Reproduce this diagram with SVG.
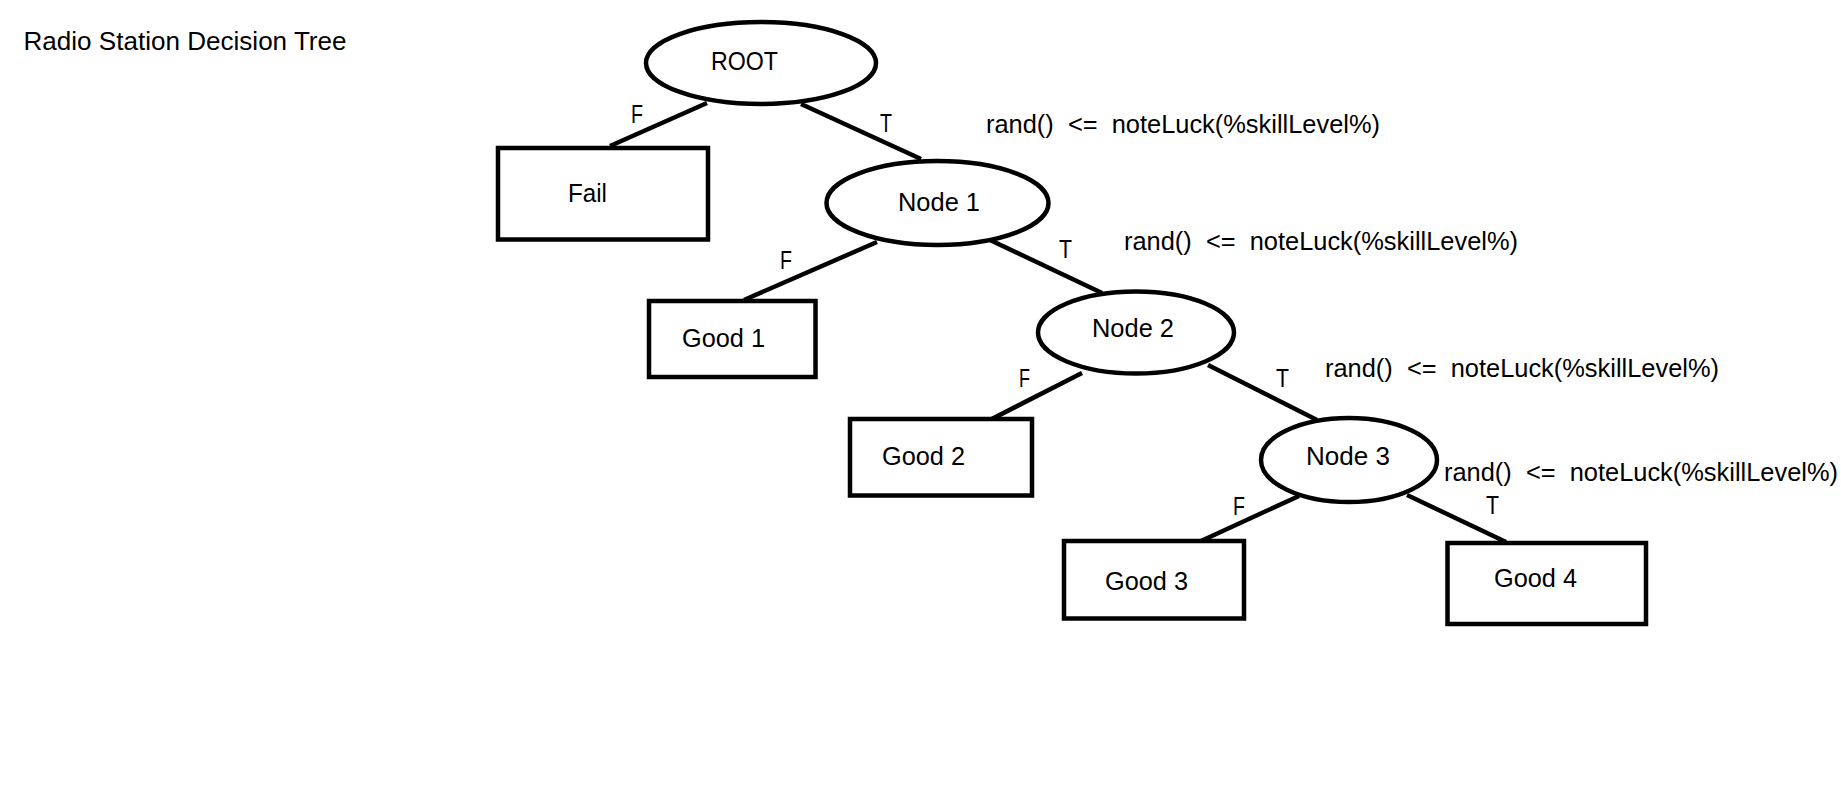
<svg xmlns="http://www.w3.org/2000/svg" width="1841" height="790" viewBox="0 0 1841 790">
<style>
  .shape { fill: #ffffff; stroke: #000000; stroke-width: 4.5; }
  .edge { stroke: #000000; stroke-width: 4.5; fill: none; }
  text { font-family: "Liberation Sans", Arial, sans-serif; font-size: 25px; fill: #000000; }
</style>
<rect x="0" y="0" width="1841" height="790" fill="#ffffff"/>
<text id="title" x="23.5" y="50" textLength="323" lengthAdjust="spacingAndGlyphs">Radio Station Decision Tree</text>
<g id="connectors">
  <line class="edge" x1="707" y1="103" x2="610" y2="146"/>
  <line class="edge" x1="801" y1="104" x2="921" y2="159"/>
  <line class="edge" x1="877" y1="242" x2="744" y2="300"/>
  <line class="edge" x1="990" y1="240" x2="1102" y2="293"/>
  <line class="edge" x1="1082" y1="373" x2="980" y2="425"/>
  <line class="edge" x1="1208" y1="365" x2="1317" y2="420"/>
  <line class="edge" x1="1299" y1="496" x2="1201" y2="541"/>
  <line class="edge" x1="1407" y1="495" x2="1506" y2="542"/>
  <text x="631" y="123" textLength="12" lengthAdjust="spacingAndGlyphs">F</text>
  <text x="880" y="132" textLength="12" lengthAdjust="spacingAndGlyphs">T</text>
  <text x="780" y="269" textLength="12" lengthAdjust="spacingAndGlyphs">F</text>
  <text x="1059" y="258" textLength="13" lengthAdjust="spacingAndGlyphs">T</text>
  <text x="1019" y="387" textLength="11" lengthAdjust="spacingAndGlyphs">F</text>
  <text x="1276" y="387" textLength="13" lengthAdjust="spacingAndGlyphs">T</text>
  <text x="1233" y="515" textLength="12" lengthAdjust="spacingAndGlyphs">F</text>
  <text x="1486" y="514" textLength="13" lengthAdjust="spacingAndGlyphs">T</text>
  <text x="986" y="133" xml:space="preserve" textLength="394" lengthAdjust="spacingAndGlyphs">rand()  &lt;=  noteLuck(%skillLevel%)</text>
  <text x="1124" y="250" xml:space="preserve" textLength="394" lengthAdjust="spacingAndGlyphs">rand()  &lt;=  noteLuck(%skillLevel%)</text>
  <text x="1325" y="377" xml:space="preserve" textLength="394" lengthAdjust="spacingAndGlyphs">rand()  &lt;=  noteLuck(%skillLevel%)</text>
  <text x="1444" y="481" xml:space="preserve" textLength="394" lengthAdjust="spacingAndGlyphs">rand()  &lt;=  noteLuck(%skillLevel%)</text>
</g>
<g id="root">
  <ellipse class="shape" cx="761" cy="63" rx="115" ry="41"/>
  <text x="711" y="70" textLength="67" lengthAdjust="spacingAndGlyphs">ROOT</text>
</g>
<g id="fail">
  <rect class="shape" x="498" y="148" width="210" height="91.5"/>
  <text x="568" y="202" textLength="39" lengthAdjust="spacingAndGlyphs">Fail</text>
</g>
<g id="node1">
  <ellipse class="shape" cx="937.5" cy="203" rx="111" ry="42"/>
  <text x="898" y="211" textLength="82" lengthAdjust="spacingAndGlyphs">Node 1</text>
</g>
<g id="good1">
  <rect class="shape" x="649" y="301" width="166.5" height="76"/>
  <text x="682" y="347" textLength="83" lengthAdjust="spacingAndGlyphs">Good 1</text>
</g>
<g id="node2">
  <ellipse class="shape" cx="1136" cy="332.5" rx="98" ry="41"/>
  <text x="1092" y="337" textLength="82" lengthAdjust="spacingAndGlyphs">Node 2</text>
</g>
<g id="good2">
  <rect class="shape" x="850" y="419" width="182" height="76.5"/>
  <text x="882" y="465" textLength="83" lengthAdjust="spacingAndGlyphs">Good 2</text>
</g>
<g id="node3">
  <ellipse class="shape" cx="1349" cy="460" rx="88" ry="42"/>
  <text x="1306" y="465" textLength="84" lengthAdjust="spacingAndGlyphs">Node 3</text>
</g>
<g id="good3">
  <rect class="shape" x="1064" y="541" width="180" height="77.5"/>
  <text x="1105" y="590" textLength="83" lengthAdjust="spacingAndGlyphs">Good 3</text>
</g>
<g id="good4">
  <rect class="shape" x="1447.5" y="543" width="198.5" height="81"/>
  <text x="1494" y="587" textLength="83" lengthAdjust="spacingAndGlyphs">Good 4</text>
</g>
</svg>
